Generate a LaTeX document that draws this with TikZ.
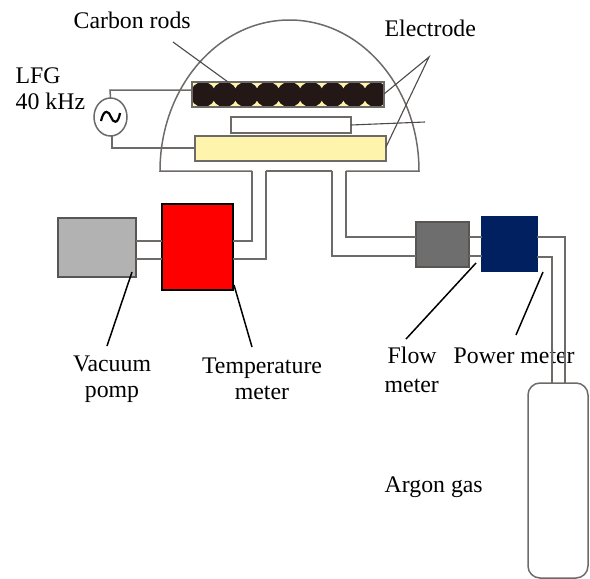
\documentclass[tikz,border=0pt]{standalone}
\usepackage{fontspec}
\usetikzlibrary{shapes.geometric}
\setmainfont{Liberation Serif}
\definecolor{pipegray}{HTML}{6E6A68}
\definecolor{rodblack}{HTML}{231815}
\definecolor{plateyellow}{HTML}{FFF4AC}
\definecolor{navyblue}{HTML}{002060}
\tikzstyle{every node}=[font=\fontsize{23.8}{26}\selectfont]

\begin{document}
\begin{tikzpicture}[
            x=1pt,y=-1pt,
            line width=1.4pt,
            pipe/.style={draw=pipegray,line width=1.5pt},
            leader/.style={draw=black,line width=1.5pt},
            thinleader/.style={draw=pipegray!70!black,line width=1.1pt},
            unit/.style={draw=#1,line width=1.5pt,inner sep=0pt,outer sep=0pt},
            label/.style={align=center,inner sep=0pt},
            tag/.style={anchor=base west,inner sep=0pt}]
        \useasboundingbox (0,0) rectangle (590,579);

        % labels
        \node[tag] (carbonlabel) at (73,28) {Carbon rods};
        \node[tag] (electrodelabel) at (384,36) {Electrode};
        \node[label,align=left,anchor=west] (lfglabel) at (15,89) {LFG\\40 kHz};
        \node[label] (vacuumlabel) at (112,379) {Vacuum\\pomp};
        \node[label] (templabel) at (262,379) {Temperature\\meter};
        \node[tag] (flowlabel) at (387,363) {Flow};
        \node[tag] (flowlabelb) at (384,392) {meter};
        \node[tag] (powerlabel) at (453,363) {Power meter};
        \node[tag] (argonlabel) at (384,492) {Argon gas};

        % chamber
        \coordinate (domeL) at (160,171);
        \coordinate (domeR) at (419,171);
        \coordinate (pipeA) at (252,171);
        \coordinate (pipeB) at (266,171);
        \coordinate (pipeC) at (332,171);
        \coordinate (pipeD) at (346,171);
        \draw[pipe] (pipeA) -- (domeL) arc[start angle=180,end angle=0,x radius=129.5pt,y radius=151pt] -- (domeR) -- (pipeD);
        \draw[pipe] (pipeB) -- (pipeC);

        % carbon rods and plates
        \node[unit=pipegray,fill=plateyellow,minimum width=192pt,minimum height=25pt] (rods) at (288,94.5) {};
        \begin{scope}
            \clip (rods.south west) rectangle (rods.north east);
            \foreach \i in {0,...,8}
                \fill[rodblack] (203+21.6*\i,94.5) circle[radius=12.6pt];
        \end{scope}
        \node[unit=pipegray,minimum width=192pt,minimum height=25pt] (rodframe) at (288,94.5) {};
        \node[unit=pipegray,fill=white,minimum width=120pt,minimum height=16pt] (shield) at (291,125) {};
        \node[unit=pipegray,fill=plateyellow,minimum width=191pt,minimum height=25pt] (plate) at (290.5,148.5) {};

        % generator
        \node[unit=pipegray,ellipse,fill=white,minimum width=33pt,minimum height=38pt] (lfg) at (110.5,117) {};
        \coordinate (lfgT) at (110,90);
        \coordinate (lfgB) at (112,148);
        \draw[pipe] (lfg.north) -- (lfgT) -- (rodframe.west |- lfgT);
        \draw[pipe] (lfg.south -| lfgB) -- (lfgB) -- (plate.west |- lfgB);
        \draw[draw=black,line width=2.2pt] (101,121) .. controls (104,108) and (109,111) .. (111,117) .. controls (113,123) and (118,125) .. (120,113);

        % units
        \node[unit=pipegray!80!black,fill=black!30,minimum width=78pt,minimum height=59pt] (vacuum) at (97,247.5) {};
        \node[unit=black,fill=red,minimum width=71pt,minimum height=86pt] (temp) at (197.5,247) {};
        \node[unit=pipegray!80!black,fill=black!57,minimum width=53pt,minimum height=45pt] (flow) at (442.5,244.5) {};
        \node[unit=navyblue,fill=navyblue,minimum width=55pt,minimum height=54pt] (power) at (509.5,244) {};
        \node[unit=pipegray,rounded corners=12pt,minimum width=60pt,minimum height=195pt] (argon) at (558,480.5) {};

        % pipes
        \coordinate (tempA) at (233,241);
        \coordinate (tempB) at (233,259);
        \coordinate (flowA) at (416,237);
        \coordinate (flowB) at (416,256);
        \coordinate (powerA) at (537,237);
        \coordinate (powerB) at (537,257);
        \coordinate (argonA) at (565,383);
        \coordinate (argonB) at (552,383);
        \draw[pipe] (pipeA) |- (tempA);
        \draw[pipe] (pipeB) |- (tempB);
        \draw[pipe] (vacuum.east |- tempA) -- (temp.west |- tempA);
        \draw[pipe] (vacuum.east |- tempB) -- (temp.west |- tempB);
        \draw[pipe] (pipeC) |- (flowB);
        \draw[pipe] (pipeD) |- (flowA);
        \draw[pipe] (flow.east |- flowA) -- (power.west |- flowA);
        \draw[pipe] (flow.east |- flowB) -- (power.west |- flowB);
        \draw[pipe] (powerA) -| (argonA);
        \draw[pipe] (powerB) -| (argonB);

        % leader lines
        \coordinate (carbonfoot) at (173,42);
        \coordinate (carbontip) at (228,82);
        \coordinate (apex) at (429,57);
        \coordinate (rodtip) at (384,94);
        \coordinate (platetip) at (386,147);
        \coordinate (shieldend) at (425,122);
        \coordinate (vacuumtip) at (132,272);
        \coordinate (vacuumfoot) at (107,346);
        \coordinate (temptip) at (234,285);
        \coordinate (tempfoot) at (252,347);
        \coordinate (flowtip) at (476,263);
        \coordinate (flowfoot) at (406,339);
        \coordinate (powertip) at (543,272);
        \coordinate (powerfoot) at (516,335);
        \draw[thinleader] (carbonfoot) -- (carbontip);
        \draw[thinleader] (rodtip) -- (apex) -- (platetip);
        \draw[thinleader] (shield.east) -- (shieldend);
        \draw[leader] (vacuumtip) -- (vacuumfoot);
        \draw[leader] (temptip) -- (tempfoot);
        \draw[leader] (flowtip) -- (flowfoot);
        \draw[leader] (powertip) -- (powerfoot);
    \end{tikzpicture}
\end{document}
